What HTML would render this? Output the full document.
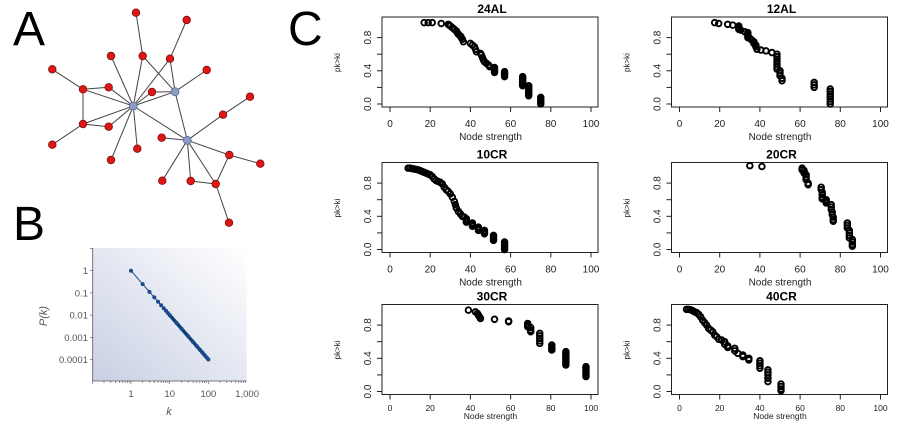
<!DOCTYPE html>
<html><head><meta charset="utf-8"><style>
body{margin:0;background:#fff;}
svg{display:block;font-family:"Liberation Sans",sans-serif;}
</style></head><body>
<svg id="fig" width="900" height="429" viewBox="0 0 900 429" xmlns="http://www.w3.org/2000/svg">
<defs>
<linearGradient id="bg" x1="0" y1="1" x2="1" y2="0">
<stop offset="0" stop-color="#c9d0e4"/><stop offset="1" stop-color="#ffffff"/>
</linearGradient>
</defs>
<text x="13" y="45" font-size="48">A</text>
<text x="13" y="240" font-size="48">B</text>
<text x="288" y="45" font-size="48">C</text>
<g id="net"></g>
<g id="pb"></g>
<g id="pc"></g>
</svg>
<script>
const NS="http://www.w3.org/2000/svg";
function mk(p,t,a){const e=document.createElementNS(NS,t);for(const k in a)e.setAttribute(k,a[k]);p.appendChild(e);return e;}

// ---- Panel A network ----
const nodeX=[133.3,175,187.3,136,186.7,111,142.7,170,206.7,52.3,83,108.7,152,250,223,83,108.7,161.7,52.3,137.3,111,229.3,260.3,162.3,190.7,215.7,229];
const nodeY=[106,91.7,140.3,12.7,20,56,56,58.7,70,69.3,89.3,87.3,92,96.7,114.7,124,126.7,137.7,144.7,148.7,160,155,163.7,180.7,181,184,222.7];
const edgesA=[[3,6],[6,0],[6,1],[4,7],[7,0],[7,1],[5,0],[8,1],[9,10],[10,11],[10,0],[10,15],[11,0],[12,0],[12,1],[0,1],[15,0],[15,16],[16,0],[18,15],[19,0],[20,0],[0,2],[17,2],[1,2],[14,2],[13,14],[2,21],[21,22],[21,25],[2,23],[2,24],[2,25],[24,25],[25,26]];
const net=document.getElementById('net');
edgesA.forEach(e=>{const l=mk(net,'line',{x1:nodeX[e[0]],y1:nodeY[e[0]],x2:nodeX[e[1]],y2:nodeY[e[1]],stroke:'#444','stroke-width':1});

});
nodeX.forEach((x,i)=>{const hub=i<3;const c=mk(net,'circle',{cx:x,cy:nodeY[i],r:hub?4:3.8,fill:hub?'#8c9cc6':'#e01515',stroke:hub?'#5a6690':'#7a1010','stroke-width':0.8});

});

// ---- Panel B ----
const pbK=[1,2,3,4,5,6,7,8,9,10,15,20,30,40,50,60,70,80,90,100];
const pbXTicks=['1','10','100','1,000'];
const pbYTicks=['1','0.1','0.01','0.001','0.0001'];
const pb=document.getElementById('pb');
const bx=(k)=>131+38.7*Math.log10(k);
const by=(p)=>270.7+22.2*(-Math.log10(p));
mk(pb,'rect',{x:92.7,y:248,width:154,height:133,fill:'url(#bg)'});
mk(pb,'line',{x1:92.7,y1:248,x2:92.7,y2:381,stroke:'#555','stroke-width':0.8});
mk(pb,'line',{x1:92.7,y1:381,x2:246.7,y2:381,stroke:'#555','stroke-width':0.8});
for(let d=-1;d<3;d++)for(let m=1;m<10;m++){const x=bx(m*Math.pow(10,d));if(x>=92&&x<=247)mk(pb,'line',{x1:x,y1:381,x2:x,y2:m==1?384:383,stroke:'#555','stroke-width':0.6});}
for(let d=-5;d<=1;d++){const y=by(Math.pow(10,d));if(y>=248&&y<=381)mk(pb,'line',{x1:90,y1:y,x2:92.7,y2:y,stroke:'#555','stroke-width':0.6});}
pbXTicks.forEach((t,i)=>{const x=131+38.7*i;const e=mk(pb,'text',{x:x,y:397,'font-size':9.5,fill:'#555','text-anchor':'middle'});e.textContent=t;

});
pbYTicks.forEach((t,i)=>{const y=270.7+22.2*i;const e=mk(pb,'text',{x:88,y:y+3.5,'font-size':9.5,fill:'#555','text-anchor':'end'});e.textContent=t;

});
let xl=mk(pb,'text',{x:169,y:415,'font-size':11,fill:'#555','font-style':'italic','text-anchor':'middle'});xl.textContent='k';


let yl=mk(pb,'text',{x:0,y:0,'font-size':11,fill:'#555','font-style':'italic','text-anchor':'middle',transform:'translate(47,316) rotate(-90)'});yl.textContent='P(k)';


mk(pb,'polyline',{points:pbK.map(k=>bx(k)+','+by(Math.pow(k,-2))).join(' '),fill:'none',stroke:'#1a4a8a','stroke-width':1});
mk(pb,'line',{x1:bx(10),y1:by(0.01),x2:bx(100),y2:by(1e-4),stroke:'#0e3d7a','stroke-width':3.5});
pbK.forEach(k=>{const c=mk(pb,'circle',{cx:bx(k),cy:by(Math.pow(k,-2)),r:2,fill:'#1a4a8a'});

});

// ---- Panel C data ----
const titles=['24AL','12AL','10CR','20CR','30CR','40CR'];
const s24AL=[17,19,21,25.5,29,29.5,30,31,32,33,33.5,34,35,35.5,36,36.5,40,41,42,42.5,43,45,45.5,46,46.5,47,48,49,49.5,52,52,52,52,57,57,57,57,66,66,66,66,66,66,66,69,69,69,69,69,69,69,75,75,75,75,75];
const p24AL=[.98,.98,.98,.97,.96,.95,.94,.92,.9,.88,.86,.84,.82,.8,.78,.75,.73,.71,.69,.66,.63,.61,.59,.56,.53,.51,.49,.47,.45,.44,.42,.4,.38,.39,.37,.35,.33,.33,.31,.29,.27,.25,.23,.22,.22,.2,.18,.16,.14,.12,.1,.08,.06,.04,.02,0];
const s12AL=[17.5,19.5,24,26.5,29.5,29.5,29.5,30.5,32.5,34,34,34,34,35,36,37,37,38,38,38.5,40.5,43,46,48.5,48.5,48.5,48.5,48.5,48.5,48.5,50,50,50,51,51,67,67,67,75,75,75,75,75,75,75];
const p12AL=[.98,.97,.96,.95,.94,.92,.9,.89,.87,.86,.84,.82,.8,.79,.77,.75,.73,.71,.69,.66,.65,.64,.62,.6,.57,.54,.51,.48,.45,.42,.4,.37,.34,.31,.28,.26,.23,.2,.18,.15,.12,.09,.06,.03,0];
const s10CR=[9,10,11,12,13,14,15,16,17,18,19,20,21,22,23,24,25,26,27,28,29,30,31,32,32.5,33,34,35,36,37,38,38,38,41,41,41,44,44,44,47,47,47,51.5,51.5,51.5,51.5,57,57,57,57,57,57];
const p10CR=[.98,.98,.975,.97,.965,.96,.95,.94,.93,.92,.91,.9,.88,.85,.83,.82,.81,.79,.75,.72,.7,.67,.63,.58,.54,.5,.46,.43,.4,.39,.37,.35,.33,.32,.3,.28,.27,.25,.23,.23,.21,.19,.17,.15,.13,.11,.09,.07,.05,.03,.01,0];
const s20CR=[35,41,61,61,62,62,63,63,63,64,64,70.5,70.5,71,71,71,71,73,73,73,75.5,75.5,75.5,76,76,76.5,76.5,76.5,83.5,83.5,83.5,84.5,84.5,84.5,84.5,86,86,86,86];
const p20CR=[1.01,1.0,.98,.96,.95,.92,.9,.87,.84,.8,.78,.75,.72,.69,.66,.63,.61,.6,.58,.56,.54,.51,.48,.45,.42,.39,.36,.34,.32,.29,.26,.23,.2,.17,.14,.12,.09,.06,.04];
const s30CR=[39,42.5,43.5,44,44.5,45,52,59,59,68.5,68.5,68.5,70,70,70,74.5,74.5,74.5,74.5,74.5,80.5,80.5,80.5,80.5,87.5,87.5,87.5,87.5,87.5,87.5,87.5,87.5,87.5,97.5,97.5,97.5,97.5,97.5,97.5,97.5];
const p30CR=[.98,.96,.94,.92,.9,.88,.87,.85,.84,.82,.8,.78,.77,.74,.72,.7,.67,.64,.61,.58,.56,.54,.52,.5,.48,.46,.44,.42,.4,.38,.36,.34,.32,.3,.28,.26,.24,.22,.2,.18];
const s40CR=[3.5,4.5,5.5,6.5,7.5,8.5,9.5,10.5,11.5,12.5,13.5,14.5,15.5,16.5,17.5,18.5,19.5,21,22.5,22.5,24,24,27.5,27.5,29,31.5,31.5,34.5,34.5,40,40,40,40,44,44,44,44,44,50.5,50.5,50.5,50.5];
const p40CR=[.99,.99,.985,.975,.96,.95,.93,.9,.86,.83,.8,.76,.74,.72,.68,.66,.63,.62,.6,.57,.55,.53,.52,.49,.46,.44,.42,.4,.38,.37,.34,.31,.28,.26,.23,.2,.16,.12,.09,.06,.03,.01];
const xTicksC=[0,20,40,60,80,100];
const yTicksC=[0,0.4,0.8];
const yMinorC=[0.2,0.6];

const seriesS=[s24AL,s12AL,s10CR,s20CR,s30CR,s40CR];
const seriesP=[p24AL,p12AL,p10CR,p20CR,p30CR,p40CR];
const pc=document.getElementById('pc');
const colX0=[390,679.5], rowY0=[104,249.5,391.5];
const tickOff=[20,20,16.5], titleOff=[33,33,24.5], xFont=[10,10,8.5];
for(let i=0;i<6;i++){
  const col=i%2,row=Math.floor(i/2);
  const x0=colX0[col],y0=rowY0[row];
  const sx=v=>x0+v*2.01, sy=v=>y0-v*83;
  const g=mk(pc,'g',{});
  
  
  const bl=x0-8,br=x0+208,bt=y0-87,bb=y0+3;
  mk(g,'rect',{x:bl,y:bt,width:br-bl,height:bb-bt,fill:'none',stroke:'#222','stroke-width':1});
  const t=mk(g,'text',{x:(bl+br)/2+2,y:bt-4,'font-size':12,'font-weight':'bold','text-anchor':'middle'});t.textContent=titles[i];
  
  
  mk(g,'line',{x1:sx(0),y1:bb,x2:sx(100),y2:bb,stroke:'#222'});
  xTicksC.forEach(v=>{mk(g,'line',{x1:sx(v),y1:bb,x2:sx(v),y2:bb+5,stroke:'#222'});
    const e=mk(g,'text',{x:sx(v),y:bb+tickOff[row],'font-size':xFont[row],'text-anchor':'middle',fill:'#222'});e.textContent=v;
    
    });
  mk(g,'line',{x1:bl,y1:sy(0),x2:bl,y2:sy(1),stroke:'#222'});
  yTicksC.concat(yMinorC).forEach(v=>mk(g,'line',{x1:bl-5,y1:sy(v),x2:bl,y2:sy(v),stroke:'#222'}));
  yTicksC.forEach(v=>{const e=mk(g,'text',{x:0,y:0,'font-size':10,'text-anchor':'middle',fill:'#222',transform:`translate(${bl-11},${sy(v)}) rotate(-90)`});e.textContent=v.toFixed(1);
    
    });
  const xt=mk(g,'text',{x:sx(50),y:bb+titleOff[row],'font-size':xFont[row],'text-anchor':'middle',fill:'#222'});xt.textContent='Node strength';
  
  
  const yt=mk(g,'text',{x:0,y:0,'font-size':8,'text-anchor':'middle',fill:'#222',transform:`translate(${bl-42},${sy(0.5)}) rotate(-90)`});yt.textContent='pk>ki';
  
  
  seriesS[i].forEach((s,j)=>{const c=mk(g,'circle',{cx:sx(s),cy:sy(seriesP[i][j]),r:2.8,fill:'none',stroke:'#000','stroke-width':1.9});
    
    });
}
</script>
</body></html>
